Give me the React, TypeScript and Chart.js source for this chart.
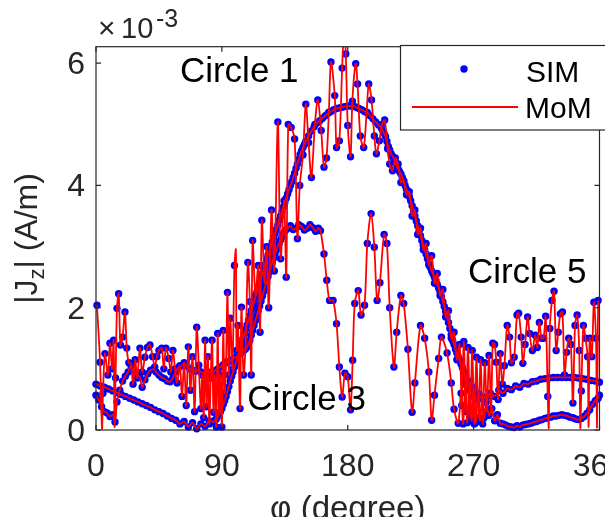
import React, { useEffect, useRef } from 'react';
import { Chart, registerables } from 'chart.js';

Chart.register(...registerables);

// ---------------- data ----------------
const xTicks = [0, 90, 180, 270, 360];
const yTicks = [0, 2, 4, 6];
const X_MAX = 360;
const Y_MAX = 6.27; // in units of 1e-3 A/m

// Circle 1 (smooth curve), sampled on piecewise grids
const circle1A = [0.75, 0.72, 0.70, 0.67, 0.64, 0.61, 0.58, 0.55, 0.52, 0.49, 0.46, 0.43, 0.40, 0.37, 0.33, 0.30, 0.27, 0.23, 0.19, 0.16, 0.10, 0.14, 0.05, 0.12, 0.02, 0.10, 0.06, 0.15, 0.13]; // 0..84 step 3
const circle1B = [0.16, 0.18, 0.22, 0.26, 0.30, 0.35, 0.42, 0.48, 0.55, 0.63, 0.71, 0.80, 0.88, 0.95, 1.03, 1.10, 1.18, 1.26, 1.33, 1.41, 1.49, 1.56, 1.64, 1.72, 1.79, 1.87, 1.95, 2.02, 2.10, 2.18, 2.25, 2.33, 2.41, 2.48, 2.56, 2.64, 2.71, 2.79, 2.86, 2.93, 3.00, 3.07, 3.14, 3.21, 3.28, 3.35, 3.43, 3.50, 3.57, 3.65, 3.72, 3.79, 3.86, 3.93, 4.00, 4.06, 4.13, 4.20, 4.28, 4.35, 4.43, 4.51, 4.57, 4.62, 4.67, 4.72]; // 85..150 step 1
const circle1C = [4.81, 4.89, 4.96, 5.02, 5.06, 5.10, 5.14, 5.18, 5.21, 5.24, 5.26, 5.27, 5.28, 5.29, 5.30, 5.30, 5.30, 5.28, 5.26, 5.24, 5.21, 5.19, 5.14, 5.09, 5.04, 4.99, 4.94]; // 152..204 step 2
const circle1D = [4.90, 4.85, 4.80, 4.72, 4.64, 4.58, 4.52, 4.48, 4.44, 4.38, 4.32, 4.27, 4.23, 4.19, 4.13, 4.07, 4.00, 3.94, 3.88, 3.82, 3.75, 3.67, 3.59, 3.50, 3.42, 3.34, 3.26, 3.18, 3.10, 3.02, 2.95, 2.88, 2.80, 2.72, 2.66, 2.60, 2.55, 2.50, 2.45, 2.38, 2.32, 2.26, 2.18, 2.10, 2.02, 1.94, 1.85, 1.76, 1.66, 1.56, 1.46, 1.40, 1.32, 1.26, 1.20, 1.14, 1.08, 1.02, 0.95, 0.88, 0.80, 0.72]; // 205..266 step 1
const circle1E = [0.65, 0.55, 0.50, 0.55, 0.52, 0.60, 0.55, 0.65, 0.60, 0.68, 0.66, 0.72, 0.70, 0.76, 0.75, 0.79, 0.80, 0.83, 0.84, 0.85, 0.86, 0.86, 0.86, 0.86, 0.86, 0.86, 0.85, 0.84, 0.83, 0.81, 0.80, 0.78]; // 267..360 step 3

// Circle 3 samples: [phi (deg), |Jz| (1e-3 A/m)]
const circle3: [number, number][] = [
  [0, 0.57], [2, 0.49], [4, 0.38], [6, 0.3], [8, 0.28], [10, 0.22], [12, 0.25], [13.6, 0.13], [15, 0.46], [17, 0.65],
  [19, 0.8], [21, 0.88], [23, 0.95], [25, 1.05], [27, 0.98], [29, 0.9], [31, 0.88], [33, 0.7], [35, 0.82], [37, 0.92],
  [39, 0.98], [41, 1.0], [43, 0.95], [45, 0.9], [47, 0.86], [49, 0.84], [51, 0.8], [53, 0.79], [55, 0.85], [57, 0.95],
  [59, 1.02], [61, 1.05], [63, 1.08], [65, 1.05], [67, 1.0], [69, 0.98], [71, 0.96], [73, 0.98], [75, 0.95], [77, 0.93],
  [79, 0.92], [81, 0.94], [83, 0.95], [85, 0.97], [87, 1.0], [89, 1.03], [91, 1.07], [93, 1.1], [95, 1.12], [97, 1.15],
  [99, 1.18], [101, 1.21], [103, 1.25], [104, 1.27], [105, 1.29], [106, 1.31], [107, 1.33], [108, 1.36], [109, 1.41], [110, 1.47],
  [111, 1.55], [112, 1.63], [113, 1.71], [114, 1.79], [115, 1.87], [116, 1.95], [117, 2.03], [118, 2.11], [119, 2.19], [120, 2.27],
  [121, 2.35], [122, 2.43], [123, 2.51], [124, 2.59], [125, 2.67], [126, 2.74], [127, 2.81], [128, 2.88], [129, 2.95], [130, 3.01],
  [131, 3.06], [132, 3.11], [133, 3.16], [134, 3.21], [135, 3.25], [136, 3.28], [137, 3.3], [139, 3.34], [141, 3.28], [143, 3.3],
  [145, 3.36], [147, 3.33], [149, 3.27], [151, 3.3], [153, 3.36], [155, 3.31], [157, 3.25], [159, 3.3], [160.5, 3.26], [163, 2.88],
  [165, 2.45], [167, 2.12], [169.5, 2.12], [172, 1.74], [174, 1.03], [176, 0.54], [178, 0.93], [180, 0.87], [182, 0.33], [183.5, 1.14],
  [185, 2.07], [187.5, 2.28], [189.5, 1.88], [192, 2.04], [194, 3.05], [196.7, 3.54], [199, 2.99], [201, 2.12], [203, 2.41], [206, 3.2],
  [208, 3.05], [210, 2.0], [213, 1.03], [215, 1.6], [218, 2.2], [220, 2.07], [223, 1.32], [226, 0.29], [228, 0.77], [232, 1.71],
  [235, 1.5], [238, 0.95], [240, 0.16], [242, 0.57], [245, 1.17], [247, 1.52], [251, 1.26], [254, 0.77], [256, 0.34], [259, 0.11],
  [261, 0.6], [262.5, 0.1], [264, 0.75], [265.5, 0.12], [267, 0.8], [268.5, 0.15], [270, 0.7], [271.5, 0.12], [273, 0.6], [274.5, 0.15],
  [276, 0.55], [277.5, 0.2], [279, 0.45], [281, 0.24], [283, 0.35], [285, 0.15], [287, 0.25], [289, 0.11], [291, 0.1], [293, 0.08],
  [295, 0.06], [297, 0.05], [299, 0.04], [301, 0.07], [303, 0.05], [305, 0.08], [307, 0.09], [309, 0.1], [311, 0.11], [313, 0.13],
  [315, 0.14], [317, 0.16], [319, 0.17], [321, 0.19], [323, 0.2], [325, 0.21], [327, 0.23], [329, 0.23], [331, 0.24], [333, 0.25],
  [335, 0.24], [337, 0.23], [339, 0.21], [341, 0.2], [343, 0.18], [345, 0.17], [347, 0.19], [349, 0.22], [351, 0.27], [353, 0.33],
  [355, 0.42], [357, 0.48], [359, 0.52], [360, 0.57],
];

// Circle 5 samples (SIM points)
const circle5: [number, number][] = [
  [0.7, 2.04], [2.9, 1.11], [5, 0.6], [6.4, 1.25], [8.5, 0.9], [10, 1.42], [11.5, 1.0], [12.6, 1.47], [14, 0.85], [15, 1.99],
  [16.2, 2.23], [17.5, 1.39], [19, 1.52], [20.7, 1.93], [22, 1.34], [23.5, 1.1], [25, 1.09], [26.5, 0.75], [28, 1.15], [29.5, 0.85],
  [31.4, 1.34], [33, 0.95], [35, 1.19], [36.8, 1.35], [38.6, 1.39], [40.5, 1.2], [42, 1.03], [43.5, 1.2], [45, 1.3], [47, 1.34],
  [48.5, 1.0], [50, 1.34], [52, 1.17], [53.5, 0.95], [55, 1.3], [56.5, 1.0], [58, 0.77], [60, 1.05], [61.5, 0.55], [63, 1.1],
  [64.5, 0.4], [66, 1.36], [67.5, 0.65], [69, 1.2], [70.5, 0.3], [72, 1.68], [73.5, 1.06], [75, 0.35], [76, 0.9], [77, 0.2],
  [78, 1.47], [79, 0.38], [80, 1.2], [81, 0.1], [82, 0.85], [83, 1.47], [84, 0.29], [85, 0.9], [86, 0.05], [87, 1.58],
  [88, 0.27], [89, 0.9], [90, 0.05], [91, 1.63], [92, 0.6], [93, 1.11], [94, 2.25], [95, 0.9], [96, 1.83], [97.5, 1.0],
  [99, 2.69], [100.5, 1.3], [101.5, 1.71], [103, 0.35], [104, 2.01], [105.5, 0.9], [107, 1.4], [108.6, 2.74], [110, 2.1], [111, 0.9],
  [112, 3.1], [114, 2.2], [116, 2.69], [117.3, 1.6], [118.6, 3.43], [120.5, 2.4], [122, 3.0], [123.5, 2.0], [125.5, 3.6], [127.5, 2.6],
  [130, 5.04], [132, 2.8], [134.5, 3.75], [136, 2.5], [137.5, 5.0], [139.5, 4.95], [142, 4.76], [144, 3.13], [145.7, 4.0], [148, 4.5],
  [150, 5.33], [152, 4.7], [154, 4.13], [156.5, 5.0], [158.6, 5.4], [161, 4.9], [163, 4.3], [164.8, 4.45], [166.5, 5.2], [168, 6.02],
  [170.7, 5.47], [172, 4.62], [174, 4.73], [176, 5.92], [178.6, 6.15], [180, 4.98], [182, 4.47], [183.3, 5.38], [185.7, 5.99], [187, 5.66],
  [189, 4.81], [191.4, 4.62], [193.5, 5.2], [195, 5.66], [197, 5.4], [199, 4.81], [200.5, 4.52], [202.6, 4.73], [204.5, 5.0], [206.4, 5.07],
  [208.5, 4.6], [210, 4.35], [212, 4.24], [214, 4.45], [216, 4.35], [218, 4.05], [220, 4.08], [222, 3.85], [224, 3.9], [226, 3.5],
  [228, 3.6], [230, 3.2], [232, 3.3], [234, 2.95], [236, 3.05], [238, 2.7], [240, 2.85], [242, 2.4], [244, 2.56], [246, 2.2],
  [248, 2.3], [250, 1.85], [252, 1.95], [254, 1.5], [256, 1.6], [258, 1.15], [260, 1.4], [261.5, 0.4], [263, 1.45], [264.5, 0.3],
  [266, 1.35], [267.5, 0.2], [269, 1.3], [270.5, 0.1], [272, 1.19], [273.5, 0.2], [275, 1.15], [276.5, 0.1], [278, 1.1], [279.5, 0.3],
  [281, 1.22], [282.5, 0.35], [283.7, 1.42], [285, 1.4], [286.2, 1.11], [287.5, 0.5], [289, 1.25], [290.5, 0.75], [292, 1.05], [294, 1.71],
  [295.7, 1.52], [297, 1.1], [299, 1.19], [301, 1.88], [302.2, 1.91], [304, 1.52], [305.2, 1.09], [306.8, 1.4], [308.6, 1.85], [310, 1.58],
  [312, 1.3], [314, 1.55], [315.5, 1.35], [317, 1.76], [318.5, 1.5], [320, 1.5], [321.5, 1.86], [323, 0.55], [324.5, 1.66], [326, 2.12],
  [327.5, 2.27], [329, 1.3], [330.5, 1.6], [332, 1.9], [333.5, 1.93], [335, 0.9], [336.5, 1.27], [338, 1.5], [339.5, 1.4], [341, 0.44],
  [342.5, 1.71], [344, 1.88], [345.5, 1.3], [347, 0.64], [348.5, 1.71], [350, 1.5], [351.5, 1.2], [353, 1.5], [354.5, 1.2], [356, 2.09],
  [357.5, 1.5], [359, 2.12],
];

// Extra MoM-only samples of circle 5 (spikes between SIM samples)
const circle5MomExtra: [number, number][] = [
  [4.3, 0.02], [13.3, 0.05], [100, 2.95], [177.4, 6.6], [323.7, 0.03], [346.3, 0.03], [352.2, 0.05], [358.2, 0.04],
];

// annotation texts (positions in data coordinates)
const annotations = [
  { text: 'Circle 1', deg: 60, val: 5.69 },
  { text: 'Circle 3', deg: 108.2, val: 0.33 },
  { text: 'Circle 5', deg: 265.9, val: 2.4 },
];

// ---------------- helpers ----------------
function grid(start: number, end: number, step: number): number[] {
  const out: number[] = [];
  for (let d = start; d <= end + 1e-9; d += step) out.push(d);
  return out;
}

function segPoints(start: number, end: number, step: number, vals: number[]) {
  return grid(start, end, step).map((d, i) => ({ x: d, y: vals[i] }));
}

const circle1Points = [
  ...segPoints(0, 84, 3, circle1A),
  ...segPoints(85, 150, 1, circle1B),
  ...segPoints(152, 204, 2, circle1C),
  ...segPoints(205, 266, 1, circle1D),
  ...segPoints(267, 360, 3, circle1E),
];
const circle3Points = circle3.map(([x, y]) => ({ x, y }));
const circle5Points = circle5.map(([x, y]) => ({ x, y }));
const circle5MomPoints = [...circle5, ...circle5MomExtra]
  .sort((a, b) => a[0] - b[0])
  .map(([x, y]) => ({ x, y }));

const FONT = '"Liberation Sans", Arial, Helvetica, sans-serif';
const AXIS_COLOR = '#262626';
const SIM_COLOR = '#0000ff';
const MOM_COLOR = '#ff0000';

function simDataset(data: { x: number; y: number }[]) {
  return {
    label: 'SIM',
    data,
    showLine: false,
    pointRadius: 3.7,
    pointHoverRadius: 3.7,
    pointBackgroundColor: SIM_COLOR,
    pointBorderWidth: 0,
    pointBorderColor: SIM_COLOR,
    order: 2,
    clip: 5,
  };
}

function momDataset(data: { x: number; y: number }[]) {
  return {
    label: 'MoM',
    data,
    showLine: true,
    borderColor: MOM_COLOR,
    borderWidth: 1.8,
    pointRadius: 0,
    pointHoverRadius: 0,
    tension: 0.3,
    order: 1,
    clip: 0,
  };
}

const decorPlugin = {
  id: 'decor',
  afterDatasetsDraw(chart: any) {
    const { ctx, chartArea: a, scales } = chart;
    const xs = scales.x;
    const ys = scales.y;
    ctx.save();

    // annotation texts
    ctx.fillStyle = '#000';
    ctx.font = `35px ${FONT}`;
    ctx.textAlign = 'left';
    ctx.textBaseline = 'alphabetic';
    annotations.forEach((an) => {
      ctx.fillText(an.text, xs.getPixelForValue(an.deg), ys.getPixelForValue(an.val));
    });

    // axes box
    ctx.strokeStyle = AXIS_COLOR;
    ctx.lineWidth = 1.2;
    ctx.strokeRect(a.left, a.top, a.right - a.left, a.bottom - a.top);

    // tick marks (inside)
    const tl = 5;
    ctx.beginPath();
    xTicks.forEach((v) => {
      const px = xs.getPixelForValue(v);
      ctx.moveTo(px, a.bottom);
      ctx.lineTo(px, a.bottom - tl);
      ctx.moveTo(px, a.top);
      ctx.lineTo(px, a.top + tl);
    });
    yTicks.forEach((v) => {
      const py = ys.getPixelForValue(v);
      ctx.moveTo(a.left, py);
      ctx.lineTo(a.left + tl, py);
      ctx.moveTo(a.right, py);
      ctx.lineTo(a.right - tl, py);
    });
    ctx.stroke();

    // tick labels
    ctx.fillStyle = AXIS_COLOR;
    ctx.font = `32px ${FONT}`;
    ctx.textAlign = 'center';
    xTicks.forEach((v) => ctx.fillText(String(v), xs.getPixelForValue(v), a.bottom + 46));
    ctx.textAlign = 'right';
    yTicks.forEach((v) => ctx.fillText(String(v), a.left - 11, ys.getPixelForValue(v) + 11));

    // exponent label
    ctx.textAlign = 'left';
    ctx.font = `30px ${FONT}`;
    ctx.fillText('\u00d7', a.left + 2, a.top - 9);
    ctx.font = `29px ${FONT}`;
    ctx.fillText('10', a.left + 25, a.top - 9);
    ctx.font = `25px ${FONT}`;
    ctx.fillText('-3', a.left + 60, a.top - 20);

    // x axis label
    ctx.textAlign = 'center';
    ctx.font = `33px ${FONT}`;
    ctx.fillText('\u03c6 (degree)', (a.left + a.right) / 2, a.bottom + 89);

    // y axis label (rotated)
    ctx.save();
    ctx.translate(37, 238.5);
    ctx.rotate(-Math.PI / 2);
    const parts = [
      { t: '|J', size: 32, dy: 0 },
      { t: 'z', size: 22, dy: 7 },
      { t: '| (A/m)', size: 32, dy: 0 },
    ];
    let total = 0;
    parts.forEach((p) => {
      ctx.font = `${p.size}px ${FONT}`;
      total += ctx.measureText(p.t).width;
    });
    let cx = -total / 2;
    ctx.textAlign = 'left';
    parts.forEach((p) => {
      ctx.font = `${p.size}px ${FONT}`;
      ctx.fillText(p.t, cx, p.dy);
      cx += ctx.measureText(p.t).width;
    });
    ctx.restore();

    // legend
    const lx = 400.5;
    const ly = 45.5;
    ctx.fillStyle = '#fff';
    ctx.fillRect(lx, ly, 215, 84.5);
    ctx.strokeStyle = AXIS_COLOR;
    ctx.lineWidth = 1.2;
    ctx.strokeRect(lx, ly, 215, 84.5);
    ctx.fillStyle = SIM_COLOR;
    ctx.beginPath();
    ctx.arc(464, 69, 3.7, 0, Math.PI * 2);
    ctx.fill();
    ctx.strokeStyle = MOM_COLOR;
    ctx.lineWidth = 1.8;
    ctx.beginPath();
    ctx.moveTo(412, 107);
    ctx.lineTo(518, 107);
    ctx.stroke();
    ctx.fillStyle = '#000';
    ctx.font = `30px ${FONT}`;
    ctx.textAlign = 'left';
    ctx.fillText('SIM', 526, 82);
    ctx.fillText('MoM', 525, 118);

    ctx.restore();
  },
};

export default function App() {
  const canvasRef = useRef<HTMLCanvasElement | null>(null);

  useEffect(() => {
    document.body.style.margin = '0';
    document.body.style.background = '#fff';
    const canvas = canvasRef.current;
    if (!canvas) return;
    const chart = new Chart(canvas, {
      type: 'scatter',
      data: {
        datasets: [
          simDataset(circle1Points),
          simDataset(circle3Points),
          simDataset(circle5Points),
          momDataset(circle1Points),
          momDataset(circle3Points),
          momDataset(circle5MomPoints),
        ] as any,
      },
      options: {
        responsive: false,
        animation: false,
        devicePixelRatio: 1,
        events: [],
        layout: { padding: { left: 96, right: 5.5, top: 46.7, bottom: 87 } },
        scales: {
          x: { type: 'linear', min: 0, max: X_MAX, display: false },
          y: { type: 'linear', min: 0, max: Y_MAX, display: false },
        },
        plugins: {
          legend: { display: false },
          tooltip: { enabled: false },
        },
      } as any,
      plugins: [decorPlugin],
    });
    return () => chart.destroy();
  }, []);

  return (
    <canvas
      ref={canvasRef}
      width={605}
      height={517}
      style={{ display: 'block', width: 605, height: 517 }}
    />
  );
}
